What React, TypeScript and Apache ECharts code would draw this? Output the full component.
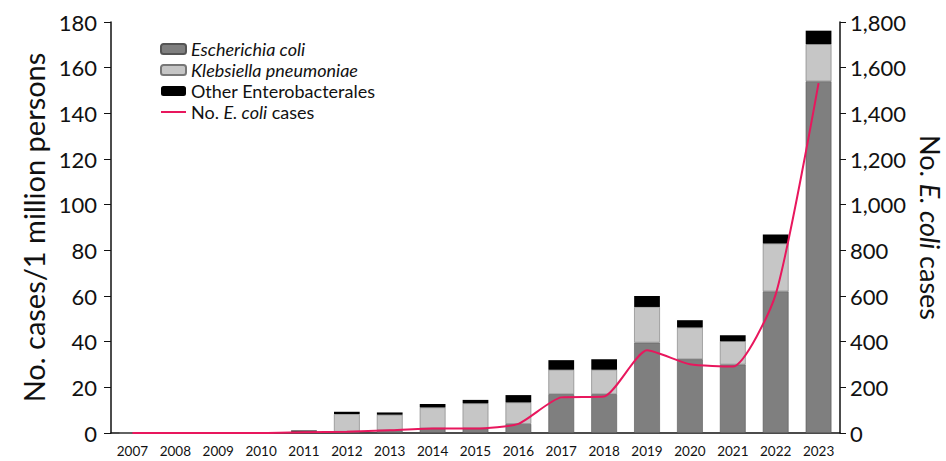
import React, { useEffect, useRef } from "react";
import * as echarts from "echarts";

const years = ["2007","2008","2009","2010","2011","2012","2013","2014","2015","2016","2017","2018","2019","2020","2021","2022","2023"];
const ecoliRate = [0, 0, 0, 0, 0.3, 0.6, 1.2, 2, 2, 4, 17, 17, 39.6, 32.3, 30, 62, 154];
const klebRate = [0, 0, 0, 0, 0.3, 7.7, 6.8, 9.2, 11, 9.4, 10.7, 10.7, 15.6, 13.9, 10.2, 21, 16.3];
const otherRate = [0, 0, 0, 0, 0.5, 1.0, 1.0, 1.5, 1.5, 3.2, 4.2, 4.6, 4.8, 3.2, 2.6, 3.9, 5.9];
const ecoliCases = [0, 0, 0, 0, 3, 5, 12, 20, 20, 40, 156, 160, 362, 301, 291, 607, 1532];

const FONT = "Lato, 'Open Sans', sans-serif";

export default function App() {
  const ref = useRef<HTMLDivElement>(null);
  useEffect(() => {
    const chart = echarts.init(ref.current!, null, { renderer: "svg" });
    chart.setOption({
      animation: false,
      backgroundColor: "#fff",
      textStyle: { fontFamily: FONT },
      grid: { left: 111, right: 106, top: 22, bottom: 28, outerBoundsMode: "none", containLabel: false },
      legend: {
        orient: "vertical",
        left: 155,
        top: 35,
        itemWidth: 25,
        itemHeight: 10,
        itemGap: 3,
        textStyle: {
          fontFamily: FONT,
          fontSize: 18,
          color: "#111",
          rich: {
            i: { fontStyle: "italic", fontSize: 18, fontFamily: FONT, color: "#111" },
            n: { fontSize: 18, fontFamily: FONT, color: "#111" },
          },
        },
        formatter: (name: string) => {
          if (name === "Escherichia coli" || name === "Klebsiella pneumoniae") return "{i|" + name + "}";
          if (name === "No. E. coli cases") return "{n|No. }{i|E. coli}{n| cases}";
          return "{n|" + name + "}";
        },
        data: [
          "Escherichia coli",
          "Klebsiella pneumoniae",
          "Other Enterobacterales",
          { name: "No. E. coli cases", icon: "path://M0,0 L25,0 L25,2 L0,2 Z" },
        ],
      },
      xAxis: {
        type: "category",
        data: years,
        axisLine: { lineStyle: { color: "#111", width: 1.5 } },
        axisTick: { show: false },
        axisLabel: { fontSize: 13.5, color: "#111", margin: 11, fontFamily: FONT },
      },
      yAxis: [
        {
          type: "value",
          min: 0,
          max: 180,
          interval: 20,
          name: "No. cases/1 million persons",
          nameLocation: "middle",
          nameGap: 58,
          nameRotate: 90,
          nameTextStyle: { fontSize: 29, color: "#111", fontFamily: FONT },
          axisLine: { show: true, lineStyle: { color: "#111", width: 1.5 } },
          axisTick: { show: true, length: 7, lineStyle: { color: "#111" } },
          axisLabel: { fontSize: 22, color: "#111", margin: 14, fontFamily: FONT },
          splitLine: { show: false },
        },
        {
          type: "value",
          min: 0,
          max: 1800,
          interval: 200,
          position: "right",
          name: "{n|No. }{i|E. coli}{n| cases}",
          nameLocation: "middle",
          nameGap: 73,
          nameRotate: -90,
          nameTextStyle: {
            fontSize: 27,
            color: "#111",
            fontFamily: FONT,
            rich: {
              n: { fontSize: 27, color: "#111", fontFamily: FONT, lineHeight: 30 },
              i: { fontSize: 27, color: "#111", fontFamily: FONT, fontStyle: "italic", lineHeight: 30 },
            },
          },
          axisLine: { show: true, lineStyle: { color: "#111", width: 1.5 } },
          axisTick: { show: true, length: 6, lineStyle: { color: "#111" } },
          axisLabel: {
            fontSize: 22,
            color: "#111",
            margin: 10,
            fontFamily: FONT,
            formatter: (v: number) => v.toLocaleString("en-US"),
          },
          splitLine: { show: false },
        },
      ],
      series: [
        {
          name: "Escherichia coli",
          type: "bar",
          stack: "rate",
          barWidth: "60%",
          data: ecoliRate,
          itemStyle: { color: "#7f7f7f", borderColor: "#555", borderWidth: 0.6 },
        },
        {
          name: "Klebsiella pneumoniae",
          type: "bar",
          stack: "rate",
          data: klebRate,
          itemStyle: { color: "#c6c6c6", borderColor: "#777", borderWidth: 0.6 },
        },
        {
          name: "Other Enterobacterales",
          type: "bar",
          stack: "rate",
          data: otherRate,
          itemStyle: { color: "#000" },
        },
        {
          name: "No. E. coli cases",
          type: "line",
          yAxisIndex: 1,
          data: ecoliCases,
          smooth: 0.2,
          showSymbol: false,
          symbol: "none",
          lineStyle: { color: "#e8175d", width: 2 },
          itemStyle: { color: "#e8175d" },
        },
      ],
    });
    return () => chart.dispose();
  }, []);
  return (
    <div
      ref={ref}
      style={{ position: "fixed", left: 0, top: 0, width: 946, height: 461 }}
    />
  );
}
